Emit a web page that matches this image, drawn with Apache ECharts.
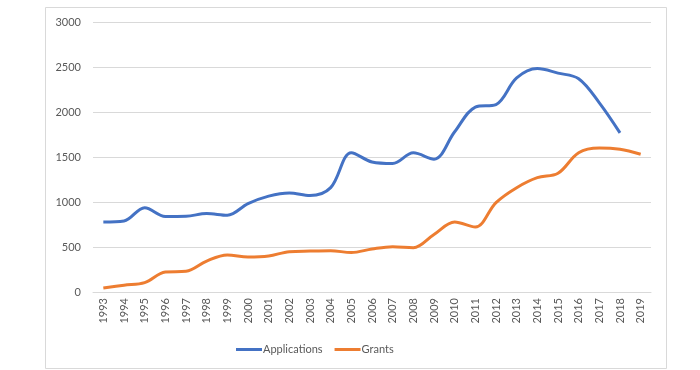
<!DOCTYPE html>
<html>
<head>
<meta charset="utf-8">
<script src="https://cdn.jsdelivr.net/npm/echarts@6/dist/echarts.min.js"></script>
<style>html,body{margin:0;padding:0;background:#fff}#c{width:700px;height:370px}</style>
</head>
<body>
<div id="c"></div>
<script>
const years = ['1993','1994','1995','1996','1997','1998','1999','2000','2001','2002','2003','2004','2005','2006','2007','2008','2009','2010','2011','2012','2013','2014','2015','2016','2017','2018','2019'];
const applications = [778,789,937,840,842,872,853,982,1065,1100,1072,1160,1548,1445,1428,1546,1476,1780,2055,2083,2378,2482,2432,2370,2102,1768,null];
const grants = [44,76,104,222,230,344,412,389,400,448,455,459,438,478,504,493,640,778,722,993,1159,1270,1319,1548,1600,1585,1530];
const yTicks = [0,500,1000,1500,2000,2500,3000];

const chart = echarts.init(document.getElementById('c'), null, {renderer:'canvas'});
const font = 'Lato, "Open Sans", sans-serif';
chart.setOption({
  animation:false,
  backgroundColor:'#fff',
  graphic:[{type:'rect',shape:{x:45.5,y:7.5,width:621,height:361},style:{fill:'none',stroke:'#d9d9d9',lineWidth:1},silent:true}],
  grid:{left:93,right:49,top:22,bottom:78,containLabel:false},
  xAxis:{type:'category',data:years,boundaryGap:true,
    axisLine:{lineStyle:{color:'#d9d9d9'}},axisTick:{show:false},
    axisLabel:{rotate:90,color:'#595959',fontSize:11,fontFamily:font,margin:6,interval:0}},
  yAxis:{type:'value',min:yTicks[0],max:yTicks[yTicks.length-1],interval:500,
    axisLine:{show:false},axisTick:{show:false},
    splitLine:{lineStyle:{color:'#d9d9d9',width:1}},
    axisLabel:{color:'#595959',fontSize:11,fontFamily:font,margin:12,formatter:v=>String(v)}},
  legend:{top:339,left:231,itemWidth:26,itemHeight:3,itemGap:12,icon:'rect',
    textStyle:{color:'#595959',fontSize:11,fontFamily:font,padding:[0,0,0,-4]}},
  series:[
    {name:'Applications',type:'line',data:applications,smooth:0.35,showSymbol:false,symbol:'none',
      lineStyle:{color:'#4472C4',width:3},itemStyle:{color:'#4472C4'}},
    {name:'Grants',type:'line',data:grants,smooth:0.35,showSymbol:false,symbol:'none',
      lineStyle:{color:'#ED7D31',width:3},itemStyle:{color:'#ED7D31'}}
  ]
});
</script>
</body>
</html>
